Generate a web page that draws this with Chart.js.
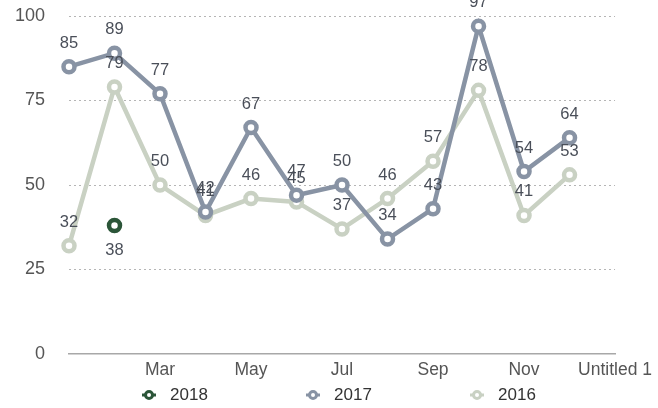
<!DOCTYPE html>
<html lang="en">
<head>
    <meta charset="UTF-8">
    <title>2016 - 2018</title>
    <script src="https://cdn.jsdelivr.net/npm/chart.js"></script>
    <style>
        body { margin: 0; background: #fff; }
    </style>
</head>
<body>
    <canvas id="chart" width="658" height="408"></canvas>
</body>

<script>
// =================================================================
//                              data
// =================================================================
const months = ['Jan', 'Feb', 'Mar', 'Apr', 'May', 'Jun', 'Jul', 'Aug', 'Sep', 'Oct', 'Nov', 'Dec', 'Untitled 1'];
const v2018  = [null, 38];
const v2017  = [85, 89, 77, 42, 67, 47, 50, 34, 43, 97, 54, 64];
const v2016  = [32, 79, 50, 41, 46, 45, 37, 46, 57, 78, 41, 53];
const yTicks = [0, 25, 50, 75, 100];

const FONT = '"Helvetica Neue", Helvetica, Arial, "Liberation Sans", sans-serif';
Chart.defaults.font.family = FONT;

// =================================================================
//                      small inline plugins
// =================================================================
// value labels above (or below) each point
const pointLabels = {
    id: 'pointLabels',
    afterDatasetsDraw(chart) {
        const ctx = chart.ctx;
        ctx.save();
        ctx.font = '16.5px ' + FONT;
        ctx.fillStyle = '#4a4f59';
        ctx.textAlign = 'center';
        ctx.textBaseline = 'middle';
        chart.data.datasets.forEach((ds, i) => {
            chart.getDatasetMeta(i).data.forEach((pt, j) => {
                const v = ds.data[j];
                if (v == null) return;
                ctx.fillText(v, pt.x, pt.y + (ds.labelBelow ? 25 : -23.5));
            });
        });
        ctx.restore();
    }
};

// wide legend row at the bottom, ring marker with a short line through it
const ringLegend = {
    id: 'ringLegend',
    afterDraw(chart) {
        const ctx = chart.ctx;
        const area = chart.chartArea;
        const mid = (area.left + area.right) / 2;
        const y = chart.height - 13;
        ctx.save();
        ctx.font = '17px ' + FONT;
        ctx.textAlign = 'left';
        ctx.textBaseline = 'middle';
        chart.data.datasets.forEach((ds, i) => {
            const x = mid - 29 + (i - 1) * 164;
            ctx.strokeStyle = ds.borderColor;
            ctx.lineWidth = 3;
            ctx.beginPath();
            ctx.moveTo(x - 7, y);
            ctx.lineTo(x + 7, y);
            ctx.stroke();
            ctx.beginPath();
            ctx.arc(x, y, 3.5, 0, Math.PI * 2);
            ctx.fillStyle = '#fff';
            ctx.fill();
            ctx.stroke();
            ctx.fillStyle = '#333';
            ctx.fillText(ds.label, x + 21, y);
        });
        ctx.restore();
    }
};

// =================================================================
//                              chart
// =================================================================
function series(label, data, color, extra) {
    return Object.assign({
        label: label,
        data: data,
        borderColor: color,
        backgroundColor: color,
        borderWidth: 4.5,
        tension: 0,
        pointRadius: 5.5,
        pointHoverRadius: 5.5,
        pointBorderWidth: 4.5,
        pointBackgroundColor: '#fff',
        pointBorderColor: color
    }, extra || {});
}

new Chart(document.getElementById('chart'), {
    type: 'line',
    data: {
        labels: months,
        datasets: [
            series('2018', v2018, '#2b5538', { labelBelow: true }),
            series('2017', v2017, '#8893a4'),
            series('2016', v2016, '#c9d1c3')
        ]
    },
    options: {
        responsive: false,
        animation: false,
        layout: { padding: { top: 16, right: 42, bottom: 24, left: 0 } },
        plugins: {
            legend: { display: false },
            tooltip: { enabled: false }
        },
        scales: {
            x: {
                grid: { display: false, drawTicks: false },
                border: { display: true, color: '#a8a8a8', width: 1.5 },
                ticks: {
                    autoSkip: false,
                    maxRotation: 0,
                    minRotation: 0,
                    padding: 6,
                    color: '#555',
                    font: { size: 17.5 },
                    callback: (v, i) => (i > 0 && i % 2 === 0) ? months[i] : ''
                },
                afterFit: s => { s.height = 30; }
            },
            y: {
                min: yTicks[0],
                max: yTicks[yTicks.length - 1],
                afterFit: s => { s.width = 69; },
                afterBuildTicks: s => { s.ticks = yTicks.map(v => ({ value: v })); },
                grid: {
                    drawTicks: true,
                    tickLength: 24,
                    tickColor: 'rgba(0,0,0,0)',
                    lineWidth: 1,
                    color: c => c.tick && c.tick.value === 0 ? 'rgba(0,0,0,0)' : '#b5b5b5'
                },
                border: { display: false, dash: [2, 3] },
                ticks: { padding: 0, color: '#555', font: { size: 18 } }
            }
        }
    },
    plugins: [pointLabels, ringLegend]
});
</script>
</html>
